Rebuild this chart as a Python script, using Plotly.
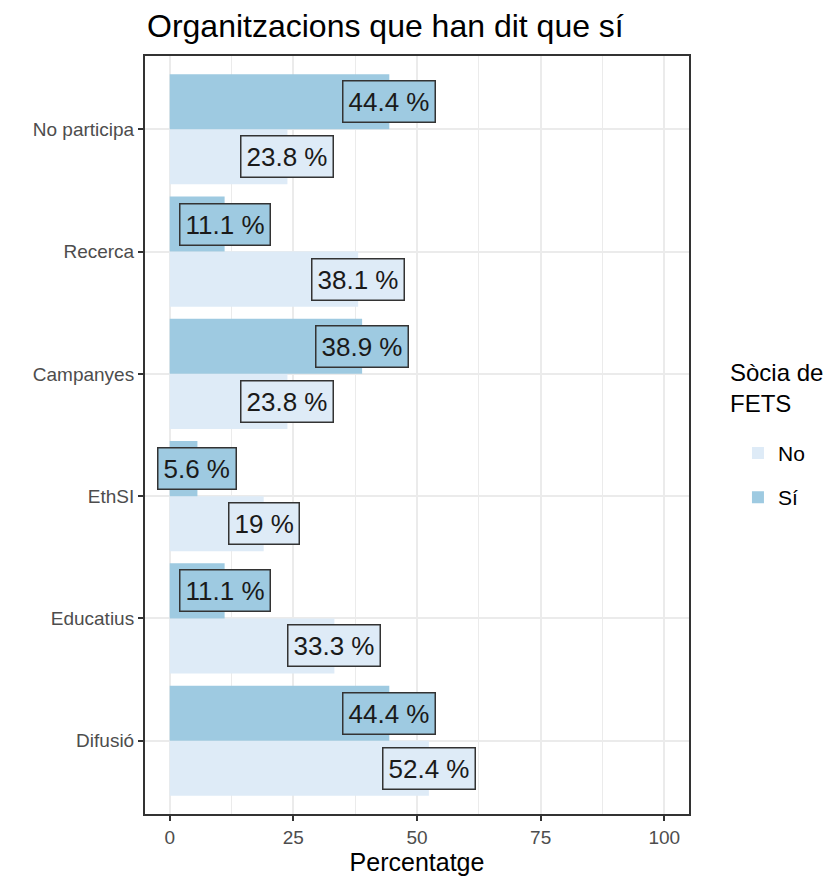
import plotly.graph_objects as go

categories = ["No participa", "Recerca", "Campanyes", "EthSI", "Educatius", "Difusió"]
pct_no = [23.8, 38.1, 23.8, 19.0, 33.3, 52.4]
pct_si = [44.4, 11.1, 38.9, 5.6, 11.1, 44.4]
labels_no = ["23.8 %", "38.1 %", "23.8 %", "19 %", "33.3 %", "52.4 %"]
labels_si = ["44.4 %", "11.1 %", "38.9 %", "5.6 %", "11.1 %", "44.4 %"]

col_no = "#deebf7"
col_si = "#9ecae1"
order = categories[::-1]  # bottom to top

fig = go.Figure()
fig.add_trace(go.Bar(y=categories, x=pct_no, orientation="h", name="No", legendgroup="no",
                     marker=dict(color=col_no, line=dict(width=0))))
fig.add_trace(go.Bar(y=categories, x=pct_si, orientation="h", name="Sí", legendgroup="si",
                     marker=dict(color=col_si, line=dict(width=0))))

annotations = []
for cat, vn, vs, ln, ls in zip(categories, pct_no, pct_si, labels_no, labels_si):
    idx = order.index(cat)
    for val, lab, off, col in [(vn, ln, -0.225, col_no), (vs, ls, 0.225, col_si)]:
        annotations.append(dict(x=val, y=idx + off, xref="x", yref="y", text=lab,
                                showarrow=False, bgcolor=col, bordercolor="#333333",
                                borderwidth=1.5, borderpad=5,
                                font=dict(size=26, color="#1a1a1a")))

# legend title as separate text so the items can sit lower
annotations.append(dict(x=1.0717, y=0.603, xref="paper", yref="paper",
                        xanchor="left", yanchor="top", align="left", showarrow=False,
                        text="Sòcia de<br>FETS", font=dict(size=24, color="black")))

# page body has an 8px margin, so the figure is shifted by 8px
fig.update_layout(
    width=836, height=883,
    paper_bgcolor="white", plot_bgcolor="white",
    font=dict(family="Liberation Sans, Arial, sans-serif"),
    barmode="group", bargap=0.1, bargroupgap=0,
    margin=dict(l=137, r=155, t=48, b=77),
    title=dict(text="Organitzacions que han dit que sí", x=139 / 836, xanchor="left",
               y=1 - 18 / 883, yanchor="middle",
               font=dict(size=32, color="black")),
    xaxis=dict(range=[-5, 105], tickvals=[0, 25, 50, 75, 100],
               showgrid=True, gridcolor="#ebebeb", gridwidth=2,
               minor=dict(tickvals=[12.5, 37.5, 62.5, 87.5], showgrid=True,
                          gridcolor="#ebebeb", gridwidth=1, ticks=""),
               zeroline=False, ticks="outside", ticklen=5, tickwidth=2, tickcolor="#333333",
               tickfont=dict(size=19, color="#4d4d4d"),
               title=dict(text="Percentatge", font=dict(size=25, color="black"), standoff=4),
               showline=True, linecolor="#333333", linewidth=2, mirror=True),
    yaxis=dict(categoryorder="array", categoryarray=order, range=[-0.6, 5.6],
               showgrid=True, gridcolor="#ebebeb", gridwidth=2,
               ticks="outside", ticklen=5, tickwidth=2, tickcolor="#333333",
               tickfont=dict(size=19, color="#4d4d4d"),
               showline=True, linecolor="#333333", linewidth=2, mirror=True),
    legend=dict(x=1.09, y=0.503, xanchor="left", yanchor="top",
                font=dict(size=21, color="black"), traceorder="grouped",
                tracegroupgap=14, itemsizing="constant"),
    annotations=annotations,
)

fig.write_html("out.html")
